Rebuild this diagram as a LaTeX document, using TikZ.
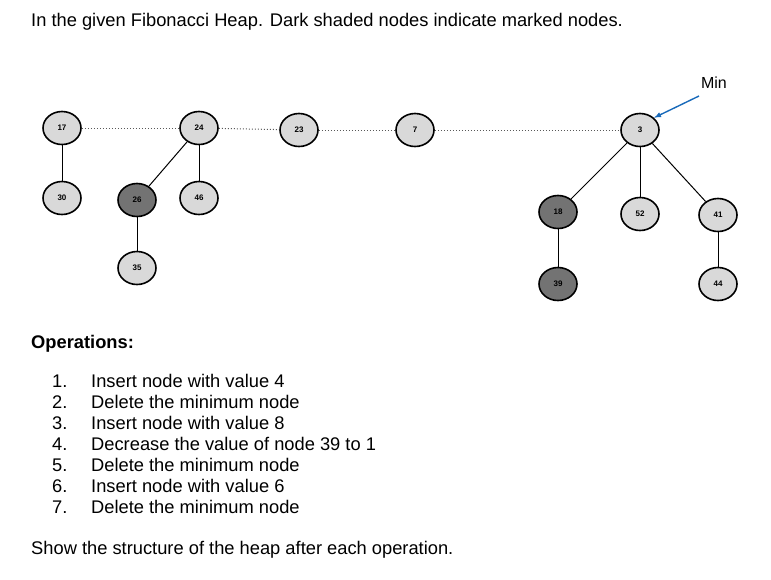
\documentclass[tikz,border=0pt]{standalone}
\usepackage{fontspec}
\setmainfont{Liberation Sans}
\usetikzlibrary{shapes.geometric}
\begin{document}
\begin{tikzpicture}[x=1pt,y=-1pt,
  hn/.style={ellipse,draw=black,line width=1.6pt,fill=gray!30,minimum width=38pt,minimum height=33pt,inner sep=0pt,font=\fontsize{8}{9}\selectfont\bfseries},
  mk/.style={hn,fill=black!55},
  ed/.style={line width=1pt,black},
  rl/.style={dotted,line width=1pt,gray!70!black},
  tx/.style={anchor=west,inner sep=0pt,font=\fontsize{18.3}{20}\selectfont}]
\useasboundingbox (0,0) rectangle (771,579);
\node[tx] (title) at (31,22) {In the given Fibonacci Heap. Dark shaded nodes indicate marked nodes.};
\node[hn] (n17) at (62,128) {17};
\node[hn] (n30) at (62,198) {30};
\node[mk] (n26) at (137,200) {26};
\node[hn] (n35) at (137,268) {35};
\node[hn] (n24) at (199,128) {24};
\node[hn] (n46) at (199,198) {46};
\node[hn] (n23) at (299,130) {23};
\node[hn] (n7) at (415,130) {7};
\node[hn] (n3) at (640,130) {3};
\node[mk] (n18) at (558,212) {18};
\node[hn] (n52) at (640,214) {52};
\node[hn] (n41) at (718,215) {41};
\node[mk] (n39) at (558,284) {39};
\node[hn] (n44) at (718,284) {44};
\draw[rl] (n17) -- (n24);
\draw[rl] (n24) -- (n23);
\draw[rl] (n23) -- (n7);
\draw[rl] (n7) -- (n3);
\draw[ed] (n17) -- (n30);
\draw[ed] (n24) -- (n26);
\draw[ed] (n24) -- (n46);
\draw[ed] (n26) -- (n35);
\draw[ed] (n3) -- (n18);
\draw[ed] (n3) -- (n52);
\draw[ed] (n3) -- (n41);
\draw[ed] (n18) -- (n39);
\draw[ed] (n41) -- (n44);
\node[font=\fontsize{16}{18}\selectfont,inner sep=1pt] (min) at (714,83) {Min};
\coordinate (ms) at (699,96);
\draw[-latex,line width=1.4pt,blue!50!cyan!70!black!90] (ms) -- (n3.north east);
\node[tx,font=\fontsize{18.3}{20}\selectfont\bfseries] (ops) at (31,344) {Operations:};
\foreach \i/\t [count=\k] in {1/Insert node with value 4,2/Delete the minimum node,3/Insert node with value 8,4/Decrease the value of node 39 to 1,5/Delete the minimum node,6/Insert node with value 6,7/Delete the minimum node}{
  \node[tx] (num\k) at (52,360+21*\k) {\i.};
  \node[tx] (op\k) at (91,360+21*\k) {\t};
}
\node[tx] (show) at (31,550) {Show the structure of the heap after each operation.};
\end{tikzpicture}
\end{document}
